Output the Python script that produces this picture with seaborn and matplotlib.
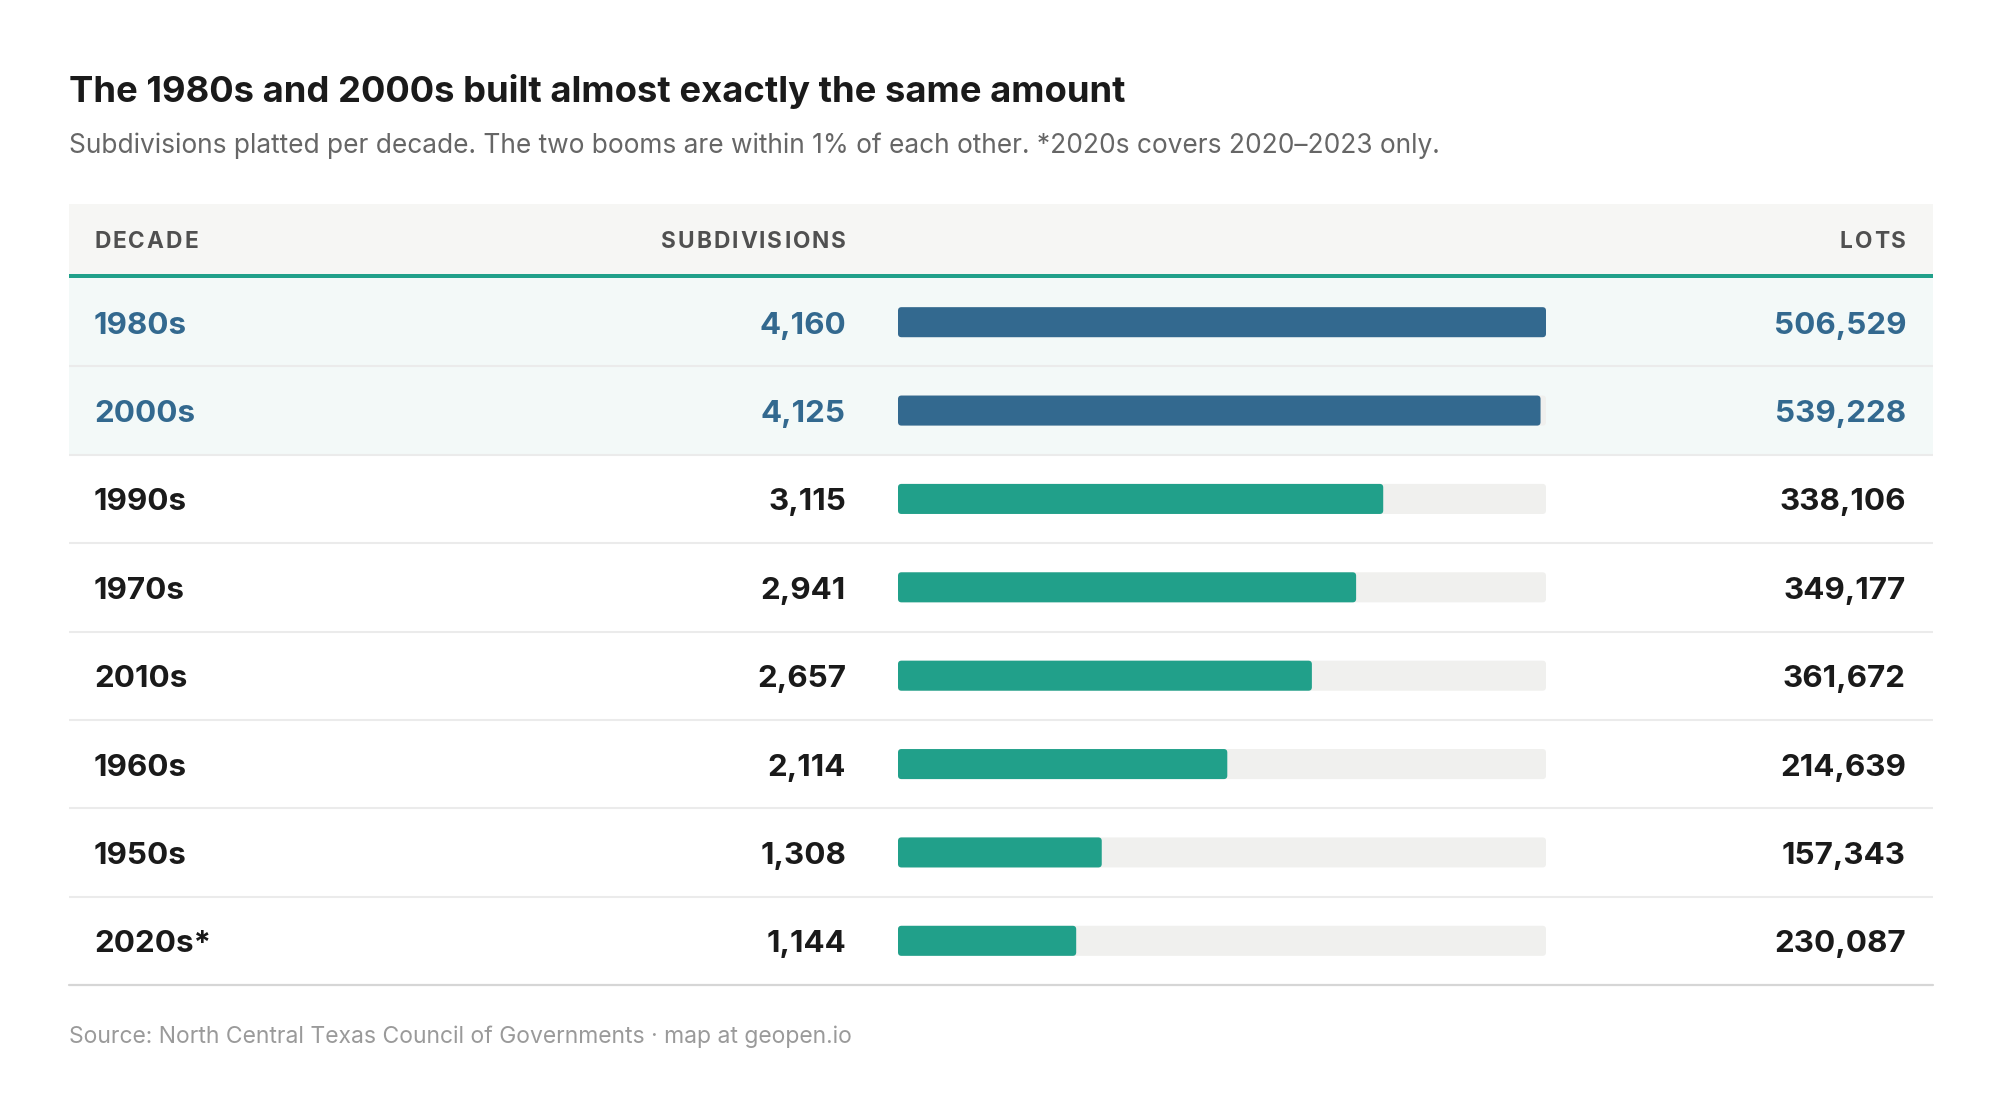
import matplotlib
matplotlib.use("Agg")
import matplotlib.pyplot as plt
import matplotlib.transforms as mtransforms
from matplotlib.patches import FancyBboxPatch, Rectangle
import pandas as pd
import seaborn as sns

# ---------------- data ----------------
decades = ["1980s", "2000s", "1990s", "1970s", "2010s", "1960s", "1950s", "2020s*"]
subdivisions = [4160, 4125, 3115, 2941, 2657, 2114, 1308, 1144]
lots = [506529, 539228, 338106, 349177, 361672, 214639, 157343, 230087]
is_boom = [True, True, False, False, False, False, False, False]

title = "The 1980s and 2000s built almost exactly the same amount"
subtitle = ("Subdivisions platted per decade. The two booms are within 1% of each other. "
            "*2020s covers 2020\u20132023 only.")
source = "Source: North Central Texas Council of Governments \u00b7 map at geopen.io"
headers = ["DECADE", "SUBDIVISIONS", "LOTS"]

# ---------------- style ----------------
BLUE = "#33698f"
TEAL = "#21a08a"
TRACK = "#f0f0ee"
HEAD_BG = "#f6f6f4"
BOOM_BG = "#f3f9f8"
SEP = "#ebebeb"
BOTTOM = "#d6d6d6"
INK = "#1a1a1a"

sns.set_theme(style="white")
plt.rcParams["font.family"] = ["Inter", "DejaVu Sans"]

W, H = 2000, 1104
fig = plt.figure(figsize=(W / 100, H / 100), dpi=100)
fig.patch.set_facecolor("white")


def fx(px):
    return px / W


def fy(py):
    return 1 - py / H


TABLE_L, TABLE_R = 69, 1933
ROWS_TOP, ROWS_BOT = 278, 985
BAR_L, BAR_R = 898, 1546
X_DEC, X_SUB, X_LOTS = 94, 846, 1906

df = pd.DataFrame({
    "decade": decades,
    "subdivisions": subdivisions,
    "lots": lots,
    "group": ["boom" if b else "other" for b in is_boom],
})
df["track"] = max(subdivisions)
n = len(df)

# header band + teal rule
fig.patches.append(Rectangle((fx(TABLE_L), fy(274)), fx(TABLE_R - TABLE_L), 70 / H,
                             transform=fig.transFigure, facecolor=HEAD_BG, edgecolor="none", zorder=0))
fig.patches.append(Rectangle((fx(TABLE_L), fy(278)), fx(TABLE_R - TABLE_L), 4 / H,
                             transform=fig.transFigure, facecolor=TEAL, edgecolor="none", zorder=1))

# table background axes
tab = fig.add_axes([fx(TABLE_L), fy(ROWS_BOT), fx(TABLE_R - TABLE_L), (ROWS_BOT - ROWS_TOP) / H])
tab.set_xlim(0, 1)
tab.set_ylim(n - 0.5, -0.5)
tab.axis("off")
for i, b in enumerate(is_boom):
    if b:
        tab.axhspan(i - 0.5, i + 0.5, color=BOOM_BG, lw=0, zorder=0)
for i in range(n - 1):
    tab.axhline(i + 0.5, color=SEP, lw=1.5, zorder=1)
tab.axhline(n - 0.5, color=BOTTOM, lw=1.6, zorder=1, clip_on=False)

# bar axes
bax = fig.add_axes([fx(BAR_L), fy(ROWS_BOT), fx(BAR_R - BAR_L), (ROWS_BOT - ROWS_TOP) / H])
bax.patch.set_alpha(0)
sns.barplot(data=df, x="track", y="decade", color=TRACK, width=0.34, ax=bax,
            saturation=1, zorder=1)
sns.barplot(data=df, x="subdivisions", y="decade", hue="group",
            palette={"boom": BLUE, "other": TEAL}, dodge=False, legend=False,
            width=0.34, ax=bax, saturation=1, zorder=2)
bax.set_xlim(0, max(subdivisions))
bax.set_ylim(n - 0.5, -0.5)
bax.axis("off")

# round the bar corners
xu_per_px = max(subdivisions) / (BAR_R - BAR_L)
yu_per_px = n / (ROWS_BOT - ROWS_TOP)
rad_px = 3.5
for p in list(bax.patches):
    if not isinstance(p, Rectangle):
        continue
    x0, y0, w, h = p.get_x(), p.get_y(), p.get_width(), p.get_height()
    if w <= 0:
        continue
    fb = FancyBboxPatch((x0, y0), w, h,
                        boxstyle=f"round,pad=0,rounding_size={rad_px * xu_per_px}",
                        mutation_aspect=yu_per_px / xu_per_px,
                        facecolor=p.get_facecolor(), edgecolor="none",
                        zorder=p.get_zorder())
    p.set_visible(False)
    bax.add_patch(fb)

# row texts
row_tr = mtransforms.blended_transform_factory(fig.transFigure, tab.transData)
row_tr = mtransforms.offset_copy(row_tr, fig=fig, x=0, y=-11.5, units="dots")
ROW_FS = 22.6
for i, r in df.iterrows():
    col = BLUE if r["group"] == "boom" else INK
    kw = dict(transform=row_tr, fontsize=ROW_FS, fontweight="bold", color=col, va="baseline")
    tab.text(fx(X_DEC), i, r["decade"], ha="left", **kw)
    tab.text(fx(X_SUB), i, f"{r['subdivisions']:,}", ha="right", **kw)
    tab.text(fx(X_LOTS), i, f"{r['lots']:,}", ha="right", **kw)

# header texts with letter spacing
renderer = fig.canvas.get_renderer()


def spaced_text(x_px, y_px, s, ha, spacing_px, **kw):
    widths = []
    for ch in s:
        t = fig.text(0, 0, ch, **kw)
        widths.append(t.get_window_extent(renderer).width)
        t.remove()
    total = sum(widths) + spacing_px * (len(s) - 1)
    start = x_px if ha == "left" else x_px - total
    cur = start
    for ch, w in zip(s, widths):
        fig.text(fx(cur), fy(y_px), ch, ha="left", va="baseline", **kw)
        cur += w + spacing_px


HKW = dict(fontsize=16.3, fontweight="bold", color="#505050")
spaced_text(X_DEC, 248, headers[0], "left", 2.0, **HKW)
spaced_text(X_SUB, 248, headers[1], "right", 2.0, **HKW)
spaced_text(X_LOTS, 248, headers[2], "right", 2.0, **HKW)

# titles
fig.text(fx(69), fy(102), title, fontsize=26.2, fontweight="bold", color=INK,
         ha="left", va="baseline")
fig.text(fx(69), fy(153), subtitle, fontsize=18.95, color="#666666",
         ha="left", va="baseline")
fig.text(fx(69), fy(1043), source, fontsize=16.5, color="#9a9a9a",
         ha="left", va="baseline")

fig.savefig("out.png", dpi=100, facecolor="white")
